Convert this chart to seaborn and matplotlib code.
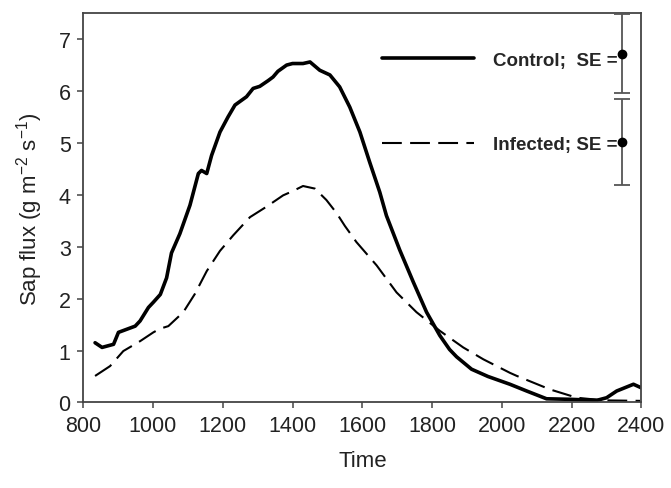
import matplotlib
matplotlib.use("Agg")
import matplotlib.pyplot as plt
import seaborn as sns
import pandas as pd
from matplotlib.lines import Line2D

# ---- data ----
control_time = [834, 854, 887, 901, 949, 963, 987, 1001, 1021, 1039, 1053, 1077, 1106, 1130,
                1139, 1154, 1168, 1192, 1215, 1235, 1268, 1287, 1306, 1330, 1344, 1358, 1383,
                1400, 1430, 1450, 1478, 1507, 1535, 1564, 1593, 1621, 1650, 1669, 1707, 1746,
                1784, 1822, 1850, 1870, 1913, 1960, 2023, 2071, 2128, 2195, 2272, 2300, 2329,
                2377, 2400]
control_flux = [1.15, 1.06, 1.12, 1.35, 1.47, 1.57, 1.83, 1.93, 2.08, 2.40, 2.88, 3.25, 3.80, 4.41,
                4.47, 4.41, 4.76, 5.21, 5.50, 5.73, 5.89, 6.05, 6.09, 6.20, 6.27, 6.38, 6.50,
                6.53, 6.53, 6.56, 6.40, 6.31, 6.08, 5.69, 5.21, 4.63, 4.05, 3.60, 2.94, 2.32,
                1.74, 1.29, 1.02, 0.88, 0.64, 0.50, 0.35, 0.22, 0.07, 0.06, 0.04, 0.09, 0.22,
                0.35, 0.28]
infected_time = [834, 877, 915, 963, 1001, 1020, 1044, 1087, 1120, 1154, 1192, 1230, 1278, 1325,
                 1373, 1400, 1430, 1464, 1497, 1526, 1550, 1583, 1641, 1698, 1755, 1822, 1889,
                 1947, 2023, 2043, 2138, 2215, 2291, 2396]
infected_flux = [0.51, 0.70, 0.99, 1.18, 1.35, 1.42, 1.47, 1.74, 2.09, 2.53, 2.92, 3.22, 3.57, 3.77,
                 3.99, 4.07, 4.17, 4.12, 3.90, 3.65, 3.40, 3.09, 2.64, 2.12, 1.74, 1.38, 1.06,
                 0.83, 0.57, 0.51, 0.25, 0.09, 0.04, 0.03]
labels = ["Control;  SE =", "Infected; SE ="]
se_time = [2345, 2345]
se_mean = [6.72, 5.01]
se_value = [0.76, 0.83]
x_ticks = [800, 1000, 1200, 1400, 1600, 1800, 2000, 2200, 2400]
y_ticks = [0, 1, 2, 3, 4, 5, 6, 7]

df_c = pd.DataFrame({"Time": control_time, "flux": control_flux})
df_i = pd.DataFrame({"Time": infected_time, "flux": infected_flux})

sns.set_theme(style="white")
plt.rcParams["font.family"] = ["Liberation Sans", "DejaVu Sans"]
plt.rcParams["mathtext.fontset"] = "custom"
plt.rcParams["mathtext.rm"] = "Liberation Sans"
plt.rcParams["mathtext.it"] = "Liberation Sans"

fig = plt.figure(figsize=(6.71, 4.89), dpi=100)
ax = fig.add_axes([0.124, 0.175, 0.832, 0.796])

sns.lineplot(data=df_c, x="Time", y="flux", ax=ax, color="black", lw=2.6, legend=False)
sns.lineplot(data=df_i, x="Time", y="flux", ax=ax, color="black", lw=1.5,
             dashes=False, legend=False)
ax.lines[0].set_solid_joinstyle("round")
ax.lines[1].set_dashes((9.5, 4))

ax.errorbar(se_time, se_mean, yerr=se_value, fmt="o", color="black", ecolor="#555555",
            elinewidth=1.3, capsize=6, capthick=1.3, markersize=6, zorder=5)

handles = [Line2D([], [], color="black", lw=2.6),
           Line2D([], [], color="black", lw=1.5, dashes=(9.5, 4))]
leg = ax.legend(handles, labels, loc="center left", bbox_to_anchor=(0.535, 0.771),
                frameon=False, borderpad=0, borderaxespad=0, handlelength=4.9,
                handletextpad=1.05, labelspacing=3.6,
                prop={"family": "Liberation Sans", "weight": "bold", "size": 13.5})

ax.set_xlim(800, 2400)
ax.set_ylim(0, 7.5)
ax.set_xticks(x_ticks)
ax.set_yticks(y_ticks)
ax.tick_params(axis="both", which="both", labelsize=15.5, direction="out", length=4,
               width=1.1, color="#444444", labelcolor="#222222", pad=5,
               bottom=True, left=True, top=False, right=False)
for s in ax.spines.values():
    s.set_color("#444444")
    s.set_linewidth(1.3)
    s.set_visible(True)

ax.set_xlabel("Time", fontsize=16, color="#222222", labelpad=10)
ax.set_ylabel("Sap flux (g m$^{-2}$ s$^{-1}$)", fontsize=16, color="#222222", labelpad=10)

fig.savefig("out.png", dpi=100)
